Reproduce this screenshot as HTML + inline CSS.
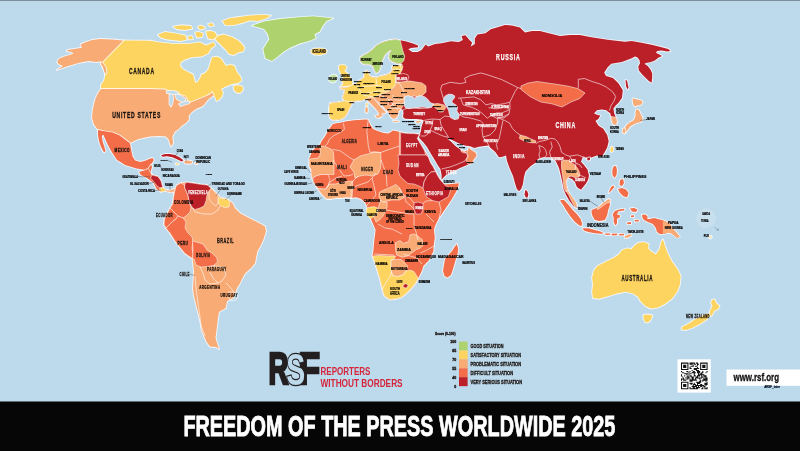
<!DOCTYPE html>
<html><head><meta charset="utf-8"><title>Freedom of the Press Worldwide 2025</title>
<style>
html,body{margin:0;padding:0;background:#000;}
body{width:800px;height:451px;overflow:hidden;position:relative;font-family:"Liberation Sans",sans-serif;}
svg{display:block;position:absolute;left:0;top:0;will-change:transform;}
.l{stroke:#fff;stroke-opacity:.8;stroke-width:1.8;stroke-linejoin:round;paint-order:stroke;}
.ov{stroke:#fff;stroke-opacity:.8;stroke-width:.65;stroke-linejoin:round;}
.b{fill:none;stroke:#fff;stroke-opacity:.85;stroke-width:.7;stroke-linejoin:round;}
.t{font-family:"Liberation Sans",sans-serif;font-weight:700;fill:#1a1410;stroke:#1a1410;stroke-width:.32;}
.ts{fill:#000;stroke:#000;stroke-width:.2;}
.tx{fill:#000;stroke:#000;stroke-width:.25;}
.w{font-family:"Liberation Sans",sans-serif;font-weight:700;fill:#fff;stroke:#fff;stroke-width:.25;}
</style></head>
<body>
<svg width="800" height="451" viewBox="0 0 800 451">
<rect x="0" y="0" width="800" height="402" fill="#bdd9ec"/>
<rect x="0" y="0" width="800" height="1.1" fill="#7a909f"/>
<rect x="0" y="1.1" width="800" height=".6" fill="#cadcea"/>
<polygon class="l" fill="#fdd460" points="123.1,40.5 135,40.6 150,40.7 159,42.3 173,43.8 189,43.8 200,42.3 206,45.4 213.7,42.3 215.2,45.4 211,48.5 208,53.5 201.5,56.5 191.7,57.2 184.4,59.8 180.7,62.2 180,65.9 183.2,69.5 188,72 193,74.4 194,78 195.4,83 197.8,81.7 200.2,78 201.5,74.4 205,73.2 208.2,69.5 210,64.6 211.2,59.8 212.4,57.3 217.3,56.7 221,58.5 223.4,62.2 225.9,65.9 230.7,64.6 234.4,65.9 236.8,72 240.5,76.8 241.7,80.5 238,83 232,84.1 225.9,86.6 221,89 218.5,90.2 216.5,90 221,88.9 223,92.2 222,96.6 218.7,100 216.5,101 215.4,97.7 213.7,95.5 212,92.2 209.8,94.4 205.4,96.6 199.9,98.8 194.3,101 188.8,103.3 185.5,96.6 168.8,91 164.4,89.4 150,88.9 101,89 101,85 104.3,80 105.4,74.3 104,70 101,64 101,61"/><polygon class="l" fill="#f9ab75" points="123.1,40.5 112,39.4 100,38.9 92,40 85.5,42.2 80.5,44.4 82,47.7 75.5,48.8 67.7,50 66.6,51 72.2,52.2 73.3,53.8 64.4,56.6 58.9,58.8 57.2,62.1 58.9,64.3 63,66 56.6,69.9 66.6,66.6 77.7,63.2 83.2,62.1 88.8,61 96.5,62.1 101,61.3 103,63.5 105.6,67 106.5,72 105.4,74.3 104.3,71.5 102.6,66.5 100.5,63.8"/><polygon class="l" fill="#f9ab75" points="101,89 150,88.9 164.4,89.4 168.8,91 185.5,96.6 188.8,103.3 194.3,101 199.9,98.8 205.4,96.6 209.8,94.4 212,92.2 213.7,95.5 212,96.6 207.6,100 204.3,104.4 202,106.6 196.5,108.8 192,112 188.8,115.5 188.8,120 185.5,123.2 181,126.5 177.7,130 175.1,131.3 172.4,136.6 173.1,143.2 171.1,146.6 169.8,143.2 168.5,139.3 165.8,136.6 159.1,136 149.8,136.6 143.2,138 137.9,139.3 133.9,141.2 130,143.2 124.6,139.3 119.3,135.3 112.6,132.6 104.6,131.3 98,130 94,124.6 92,118 92.7,110 95,100 98,93"/><polygon class="l" fill="#f26d48" points="98,130 104.6,131.3 112.6,132.6 119.3,135.3 124.6,139.3 130,143.2 131.2,150 132.6,156.5 135.2,160.5 140.5,161.9 145.8,160.5 148.5,159.2 152.5,157.9 153.8,159.9 151.2,164.5 148.5,168.5 145.8,170 136.5,168.5 130,166.5 125,165 120.5,162 117,160 113,154 110,149 107,143 104.6,137.5 103.2,134.5 101.8,136 102.5,141 104.2,146.5 105.6,151.2 104,152.3 101,147 99,141 98,135"/><polygon class="l" fill="#f26d48" points="145.8,170 148.5,168.5 151.2,164.5 152,167 150.5,172 152,175 158,176.6 161,181 162.8,187.5 166,190 169,190.5 173.7,189 175.3,188.3 174.5,191.5 171,192.5 167.3,191.5 163.3,190 161,192 156.6,189 153.5,182.8 147,178 141,175 139,172"/><polygon class="l" fill="#bb2029" points="161,155.3 165,154 170,153.9 175,155 179.5,157.3 183.5,160.3 181.8,161.6 177.5,159.5 172.5,157.3 167,156.3 162.5,156.8"/><polygon class="l" fill="#f9ab75" points="184.5,161 188,160.5 192.5,161.5 191.5,163.5 186,163.8 184.5,163"/><polygon class="l" fill="#fdd460" points="175.5,163.5 178.5,163.3 178.8,164.5 175.8,164.6"/><polygon class="l" fill="#f9ab75" points="195,163 197.5,163 197.5,164 195,164"/><polygon class="l" fill="#f9ab75" points="175.3,188.3 176.6,185.6 180.6,183 186,182.3 192.5,183 200.5,184.3 207.2,185 211.2,188.3 215.2,192.3 220.5,197.6 227,199 232.4,203 235,208.2 240.4,213.6 245.7,216.2 250,218.5 256,221.5 261,224 265,226.5 266,231 264,238 261,245 257.5,251 256,258 255,263.5 250,269 245,273.5 242,279 240,283.5 237,288 233.8,297.3 227,301.3 225.8,308 219,312 217.9,318.6 216.5,330.5 215.5,337.7 217,343 219,349 216,347 210,346.6 206.6,342 202,331 200,320 196.6,306.6 194,296 193,288.5 194,271 192.5,258.5 185,253.5 178,245 175,241 170,233 166,228.2 164,224.2 164.6,218.9 167.3,213.6 170,208.2 172.6,204.3 174,195"/><polygon class="l" fill="#aed36e" points="252,25.6 264,21.6 280,19 295.9,17.6 313,16.3 325,17.6 333,18.3 326.4,21 322.4,26.3 319.8,31.6 314.5,34.3 315.8,38.2 309,41 299.8,43.6 290.5,47.6 283.9,51.5 277.2,56.9 272,60.9 265.3,58.2 263.3,48.9 266.6,43.6 269.3,39.6 268,34.3 264,29 257.3,27"/><polygon class="l" fill="#fdd460" points="311,50.5 314,48.6 319,48.3 324,48.6 327,50.8 325.5,53.5 320,55 314.5,54.6 311.5,53"/><polygon class="l" fill="#fdd460" points="222.5,21 229.4,18.3 239,17 250,15.6 262,14.8 271,15.5 266,18.5 258,21 250,20.4 241.8,23.1 233.5,25.2 225.3,25.2"/><polygon class="l" fill="#fdd460" points="216.8,36 224,34.5 232,37 238,40.5 242,44 244.7,48 243,51.6 238,52.5 234,55 229,54 226,50 222,46 218,42 215,39"/><polygon class="l" fill="#fdd460" points="157.9,34.8 164.8,32 171.6,32.8 178.5,34.1 185.4,35.5 186.8,39.6 181.3,41 174.4,40.3 167.5,39.6 160.6,37.6"/><polygon class="l" fill="#fdd460" points="173,26.6 181.3,25.2 190.9,25.9 192.3,28.6 185.4,30 177.1,29.3"/><polygon class="l" fill="#fdd460" points="197.8,26.6 201,25.5 204.6,27 204.6,28.6 200,29.5"/><polygon class="l" fill="#fdd460" points="195,32.5 199,32 203.3,33.5 202,37 197,37.6"/><polygon class="l" fill="#fdd460" points="206,31.4 211,31 215,32.5 217,36 213,39.6 208,38.5"/><polygon class="l" fill="#fdd460" points="208,24 212,23 214,25.5 210,26.5"/><polygon class="l" fill="#fdd460" points="188,36.5 192,36 193,39 189,39.5"/><polygon class="l" fill="#bb2029" points="360.3,60.7 360.3,57.2 363.9,55 368.3,52.7 372.7,49.2 376.3,45.6 380.7,43 385.2,41.2 390.5,39.9 395.8,39.4 400.3,40.3 405.6,41.3 412.3,43.3 417.6,45.3 418.3,47.3 411,48 408.3,49.3 412.3,52 417.6,52 421.6,50 425.6,44.6 428.2,46.6 434.9,44 441.5,43.3 450.9,41.3 458.8,42 462.8,40 461.5,36 465.5,35.3 469.5,40 472.1,42.6 470.8,46.6 474.8,44 474.8,38.6 477.4,34.6 485.4,33.3 490.7,29.3 495,28 505,25 512,25.5 520,27.5 525,32.5 532,31 540,31 550,33.5 560,36 570,35 580,35 590,37.1 607.7,39.8 625,41.7 631.7,41.1 641.6,42.8 652.7,45 661.6,47.2 668.2,48.9 670.5,51.1 667.1,51.6 661.6,50.5 657.2,51.1 656,52.7 659.4,54.4 662.1,56.1 658.3,57.7 654.9,60.5 650.5,62.2 647.2,62.7 644.4,63.8 647.7,66 650.5,69.4 652.2,73.3 652.2,77.7 651.6,82.7 648.8,81 645.5,77.7 642.2,74.4 638.9,70.5 638.3,66.6 640,63.3 639.4,60 637.2,57.2 635,56.6 631.7,58.3 627.2,60 621.9,61.9 611.3,63.7 607.7,67.2 604.2,72.5 606,76.1 613,77.9 618.4,83.2 622.8,90.3 622,97.8 618.8,102.4 615.7,105.5 613.4,108.6 614.2,113.3 615.7,117.2 617.3,121 616.5,124.2 613.4,125 611.8,121 611,116.4 610.3,113.3 608,111.7 606.4,110.2 601.7,109.4 597,110.2 594,113.3 597,114.8 600.2,115.6 598.6,118.7 595.5,121 598.6,125.7 603.3,128.8 607.2,135 608.7,141.2 607.2,147.5 604.8,152 601.7,156.8 596.8,155.5 589,158.6 582.8,157 581,161.7 584,165 587.5,169.5 589,175.7 588,180 586,183.5 581,189.7 578,188 576.6,186.6 575,182 572,179 568,177.5 566,181 566.5,186 568,191 570.5,196 574,201 577,205 576.5,208 573.5,206 569.5,201 566,195 563.5,189 562.5,183 561,176 559,168 555.6,160.8 550.3,157.3 543,157.3 537.9,159 536,162.6 530.8,166 525.5,171.4 524,177 523,184 521.2,189 519,191.2 516.8,189 515.2,184 513,176 509.5,167.9 506.9,160.8 506,155.5 502,157 498.9,157.3 495.3,152 490,147.5 488.3,145.5 479,146.8 474.4,148 470,146.3 464.6,145.4 457.5,142.8 448.6,138.3 447.5,139 450.4,141 455.7,146.3 461,149.9 464.6,151.6 468,149.9 469,147.2 470.5,149.5 476,152.8 476.5,156 473.5,160 472.5,163 466,165.5 460,168 452,172 446,175 443,178 441.6,180 441.6,175.1 440.4,169 437.9,165.4 434.3,159.3 430.6,153.2 427,147 423.3,142.2 419.6,138.5 418.6,135.5 420.7,132 421.6,126.6 423.8,120.4 421.6,119.5 416.3,119 410,119 405,118.8 403,117 403.5,113 403,110 401,109 399,111 398,115 396.5,118 393,118.8 390,116 388.5,112 386,110 383.8,107 380,104 377,101 374,98.5 372.5,97.5 376,101.3 380,106 384,110.5 386,112.5 384,113.5 382,113 382.5,115.5 380,117.5 378,116 379,113 375,108 370,103 366,99 362,100.5 357,101 353.3,101.7 351.3,105 348.7,110.3 346.7,114.3 344,117.7 340,119.7 333.3,120.3 330,118.3 329,114 329,108 330,103 337,102.3 345.3,101 343.8,100 342.5,97.5 344,93.5 345,90 341,89 340,87.6 347,87.5 350,85.8 353,84.5 356,83.5 359,80.5 362,79 364,77.5 364.5,73 366,70.5 368.5,72 369.5,76 372,77 376,77.5 381,76 386,75 390,73 392.5,69.5 392,66.5 396,65.5 401,65 403,64.2 401.1,63.4 396.7,63.4 392.3,61.6 389.6,59.8 388.7,56.3 389.6,52.7 391.4,51 390.5,50.1 387.8,51.9 385.2,54.5 383.4,58 381.6,62.5 380.7,66 379.8,69.6 378.1,72.3 376.3,73.2 374.5,70.5 372.7,66 369.2,64.3 364.8,64.3 362.1,63.4"/><polygon class="l" fill="#f26d48" points="419.5,134.2 418.5,136 417.2,138.5 420.9,144.6 424.5,150.7 428.2,156.8 430.6,162.9 433,166.6 435.5,171.5 438,176.3 440.4,180 444.5,184.6 452,184 459,183.3 458,187 456.4,191.3 451,200.6 444.5,210 439,218 435,226 434,230 434.8,238 434,243 433.3,251.6 428.8,260.5 423.5,265.8 421.8,271 418.2,278.2 416.4,281.7 413,286.5 409.3,290.6 405,294.5 400.5,297.7 395,299 389.8,299.5 384.5,296 382.5,290 380,279 377.5,271 375,263 372.5,256 373.5,250 374,243 375.6,230 373.5,225 371.6,220.6 369,215 367.7,210 366.8,206.6 365,202 360.5,198.8 356,197.3 351.2,198 346.6,197.3 341,198 335.7,198 330,199 326.4,198.8 321.7,194 317,188 314,181.7 311.6,177 310.9,169.3 309.3,166 309.3,158.5 312.4,150.7 316,147.5 320,144.5 322,140.5 324.8,136.7 328.5,130 332.6,124.3 336,123.2 340.4,122.8 346.6,121.2 354,120.3 362,119.7 366,119.5 368.3,119.7 370,124.3 373,129 376.5,130.5 380.7,132 384,133 388.5,133.6 393,130.5 396,131 399.4,132 404,133 408.7,133.6 413,133.5 419.5,134.2"/><polygon class="l" fill="#f26d48" points="456.8,244 458.3,249 457.5,254 455,262 453,269 451,275 447.5,277.5 444.5,276 443,271 444,265 445,259 448.5,255 452,251 454.5,247"/><polygon class="l" fill="#fdd460" points="338.6,66 342,64.6 345.6,65.5 346.6,68 344.5,71 347.5,73.5 349.5,76 351,79 352.5,82 352,84.5 349,85.8 345,86.3 341,86.2 343.5,83.5 342,81 343.5,78 341.5,75 340,72 339,69"/><polygon class="l" fill="#c5e2a6" points="330,76 333.5,74.5 336.5,75.5 337,79 335,82 331.5,82.5 329,80.5"/><polygon class="l" fill="#bb2029" points="525.3,190 527,190.8 528.4,194 527.8,197.3 525.8,197.6 524.5,194.5"/><polygon class="l" fill="#fdd460" points="611.5,146.5 613.3,147.5 612.8,151.5 611,152 610.3,149.5"/><polygon class="l" fill="#bb2029" points="587,157.8 590,157.5 590,160 587.5,160.5"/><polygon class="l" fill="#f9ab75" points="632.7,98.3 637.2,99.4 641.6,100.5 642.7,102.7 640.5,105 637.2,105.5 635,106.6 633.3,104.4 632.7,101"/><polygon class="l" fill="#f9ab75" points="636.3,109.3 639,110.2 640.8,114.6 642.5,118 642.3,120.5 640.8,121.9 637,123 634.6,124 630.1,126.6 627.8,129.7 625.9,132.6 623.9,130.5 624.6,128.5 626.4,125.3 629.5,122.6 633.2,120.4 635,118 635.6,115 635.4,112"/><polygon class="l" fill="#f9ab75" points="622.8,128.6 625,128.8 625.4,131.5 624.5,133.6 622.6,132.5"/><polygon class="l" fill="#bb2029" points="625.5,80 627,80.5 628.5,87.5 627.5,89.5 626,86"/><polygon class="l" fill="#f26d48" points="613.5,166.5 616,166 617,170 616.5,175 614.5,178 612.5,175 612.3,170"/><polygon class="l" fill="#f26d48" points="620,180 623,179 624,183 622,186 619.5,185"/><polygon class="l" fill="#f26d48" points="618,189 622,188 626,189.5 628.5,193 627,197.5 623,196 620,193"/><polygon class="l" fill="#f26d48" points="611,187 613,185.5 614.5,187 610,192 608.5,193"/><polygon class="l" fill="#f26d48" points="591.6,210 594.9,208.8 599.3,206.6 602.6,203.3 606,201 608.2,198.9 610.4,200 609.8,205.5 608.2,210 607.1,215.5 604.9,220 599.3,221 594.9,220 592.7,216.6 591.6,213.3"/><polygon class="l" fill="#f26d48" points="614.8,211 619.3,209.4 624.8,208.8 623.7,210.5 618.2,211.6 617,214.4 620.4,215.5 619.3,217.7 617,218.8 617,223.2 615.4,225.5 613.7,222.1 613.7,217.7 612.6,214.4"/><polygon class="l" fill="#f26d48" points="560.5,200 563.9,200 568.3,204.4 572.7,210 577.2,214.4 580.5,218.8 582.1,223.2 581.6,226 579.4,225.5 575,222.1 570.5,216.6 566,210 562.8,204.4 560.5,201.5"/><polygon class="l" fill="#f26d48" points="582.7,228.2 588.2,228.2 594.9,229.9 600.4,231.6 603.8,233.2 601.5,233.8 594.9,233.2 588.2,232.1 583.8,230.4"/><polygon class="l" fill="#f26d48" points="605,233.6 610,233.4 610.5,234.8 605.5,235"/><polygon class="l" fill="#f26d48" points="611.5,233.8 617,233.6 617,235.2 612,235.4"/><polygon class="l" fill="#f26d48" points="619,234 624,233.8 624,235.2 619.5,235.4"/><polygon class="l" fill="#f9ab75" points="624.5,236.5 628,234.8 631,234 631.5,235.5 628.5,237.5 625,238"/><polygon class="l" fill="#f26d48" points="630,208.5 634,208 637.5,209.5 636,212 632,211.5"/><polygon class="l" fill="#f26d48" points="634.5,220 638.5,219.8 639,221.4 635,221.6"/><polygon class="l" fill="#f26d48" points="627,222.5 631,222 631,224 627.5,224.3"/><polygon class="l" fill="#f26d48" points="631,215.5 634,215.2 634,217 631,217.2"/><polygon class="l" fill="#f26d48" points="641.9,215 644.9,214.5 647.4,216 647.4,219 649.9,219 653.9,218 657.9,219 661.9,220 665.9,221.4 669.9,224 672.8,228.9 675.8,231.9 679.8,236.9 676.8,237.4 673.8,234.9 670.8,232.9 666.9,232.9 663.9,233.9 659.9,233.9 656.9,231.9 655.9,227.9 652.9,223.9 647.9,221.9 643.9,219.9 642.4,217.4"/><polygon class="l" fill="#fdd460" points="593.9,270.5 597.4,266 606.3,261.6 613.4,258 618.7,254.5 622.2,250 627.6,248.3 631.1,249.2 634.6,245.6 638.2,243 643.5,242.1 648.8,243.9 648,248.3 650.6,251 655.9,254.5 659.5,249.2 661.2,242.1 663,239.4 664.8,245.6 667.4,252.7 671.9,261.6 677.2,268.7 680.7,275.8 679.9,284.6 677.2,291.7 671.9,298.8 664.8,304.1 657.7,307.7 650.6,308.6 645.3,305.9 640,300.6 638.2,297 632.9,293.5 625.8,291.7 616.9,293.5 608,296.2 599.2,298.8 593,298 592.1,291.7 593,284.6 592.1,277.5"/><polygon class="l" fill="#fdd460" points="643.5,315 648,314.5 652.5,315.5 651,319.5 648,322.5 645,322 643.5,318.5"/><polygon class="l" fill="#fdd460" points="712,300 715,299.5 716,303 719.5,306 718,309 714,311 712,315.5 709.5,316 710,311 712.5,306 711,303"/><polygon class="l" fill="#fdd460" points="708.5,313.5 710,316 706,320 700,324 692,328 686,330 681.5,329.5 682,327 688,324 694,320 700,317 705,314.5"/><polygon class="l" fill="#efe6b4" points="709,236 711,235.6 712,237 710.5,238.6 709,238"/><polygon class="l" fill="#fdd460" points="366.3,103.2 367.6,103.4 367.4,106 366.2,106.2"/><polygon class="l" fill="#fdd460" points="233.5,86 238,85.2 242.5,86.5 243,90 240,93 236.5,92.5 234,90"/><polygon class="l" fill="#f9ab75" points="365.6,107.3 367.6,107.2 367.8,111.5 366.8,113 365.4,112"/><polygon class="l" fill="#f9ab75" points="375.2,115.6 378.6,115.2 381,115.6 379.3,118 376.6,117.4"/><polygon class="l" fill="#f9ab75" points="415.5,121.4 419.5,120.8 421.3,121.3 418.5,122.7 416,122.6"/><polygon class="l" fill="#f9ab75" points="393,121 398.5,120.7 399,121.6 393.5,121.9"/>
<polygon class="ov" fill="#bb2029" points="184.6,185 186,182.3 192.5,183 200.5,184.3 207.2,185 211.2,188.3 209,191 207,195 206,201 204,206 200,208 195,209.5 191,207 189,202 188,196 186,191 184.6,188"/><polygon class="ov" fill="#f26d48" points="175.3,188.3 176.6,185.6 180.6,183 184.6,185 184.6,188 186,191 188,196 189,202 191,207 190,212 186,216 183,218 178,216 174,212 170,208.2 172.6,204.3 174,195"/><polygon class="ov" fill="#f26d48" points="170,208.2 174,212 178,216 176,219 172,222 168,226 166,228.2 164,224.2 164.6,218.9 167.3,213.6"/><polygon class="ov" fill="#f26d48" points="166,228.2 168,226 172,222 176,219 178,216 183,218 186,222 185,228 188,233 192,237 193,241 192,248 193,254 192.5,258.5 185,253.5 178,245 175,241 170,233"/><polygon class="ov" fill="#f26d48" points="192.5,241 198,242.5 203,244 207,250 212,253 217,258 217.5,262 213,266 207,266.5 201,267 196,265 194,259 192.5,258.5 193,250"/><polygon class="ov" fill="#fdd460" points="217.8,197.6 222,198.5 227,199 229.8,202 229,207 225,207.5 221,206 218,203"/><polygon class="ov" fill="#f9ab75" points="211.2,188.3 215.2,192.3 218,196 218,203 216,206 213,204 209,199 209,191"/><polygon class="ov" fill="#bb2029" points="152,175 158,176.6 161,181 162.8,187.5 160,188 157,186 154,182 150.5,178"/><polygon class="ov" fill="#fdd460" points="160,188 162.8,187.5 166,190 164.5,191.5 161,192 159.5,190"/><polygon class="ov" fill="#f9ab75" points="164.5,191.5 166,190 169,190.5 173.7,189 175.3,188.3 174.5,191.5 171,192.5 167.3,191.5"/><polygon class="ov" fill="#aed36e" points="360.3,60.7 360.3,57.2 363.9,55 368.3,52.7 372.7,49.2 376.3,45.6 380.7,43 385.2,41.2 390.5,39.9 395.8,39.4 400.3,40.3 401.1,43.9 402.9,51 404.7,56.3 403.8,60.7 401.1,63.4 396.7,63.4 392.3,61.6 389.6,59.8 388.7,56.3 389.6,52.7 391.4,51 390.5,50.1 387.8,51.9 385.2,54.5 383.4,58 381.6,62.5 380.7,66 379.8,69.6 378.1,72.3 376.3,73.2 374.5,70.5 372.7,66 369.2,64.3 364.8,64.3 362.1,63.4"/><polygon class="ov" fill="#fdd460" points="330,103 337,102.3 345.3,101 343.8,100 342.5,97.5 344,93.5 345,90 341,89 340,87.6 347,87.5 350,85.8 353,84.5 356,83.5 359,80.5 362,79 364,77.5 364.5,73 366,70.5 368.5,72 369.5,76 372,77 376,77.5 381,76 386,75 390,73 392.5,69.5 392,66.5 396,65.5 401,65 403,66 402,70 400,74 396,74.5 396,78 396,82 395,86 393,88 390,90 388,92 384,93 380,95 377,96 374,98.5 372.5,97.5 366,99 362,100.5 357,101 353.3,101.7 351.3,105 348.7,110.3 346.7,114.3 344,117.7 340,119.7 333.3,120.3 330,118.3 329,114 329,108"/><polygon class="ov" fill="#f9ab75" points="366,99 370,97 374,98.5 376,101.3 380,106 384,110.5 386,112.5 384,113.5 382,113 382.5,115.5 380,117.5 378,116 379,113 375,108 370,103"/><polygon class="ov" fill="#f9ab75" points="374,98.5 377,96 380,95 384,93 388,92 390,90 393,88 395,86 396,82 400,82 405,81 410,81 416,82 422,83 426,86 426,92 422,96 418,97 414,96 410,97 406,98 404,99 404.5,103 403,106 401,109 399,111 398,115 396.5,118 393,118.8 390,116 388.5,112 386,110 383.8,107 380,104 377,101"/><polygon class="ov" fill="#bb2029" points="396,74.5 400,74 404,73.5 408,75 409,78 407,81 402,82 396,82 396,78"/><polygon class="ov" fill="#f26d48" points="389,100 392,99.5 393,103 391,106 388.5,105"/><polygon class="ov" fill="#f9ab75" points="433,104 438,103.5 444,105 446,107.5 444,110 443,112 439,112 437,109 434,107"/><polygon class="ov" fill="#f26d48" points="521,86 528,83 537,81.5 549.7,83.3 558,84.5 567.4,86 578,88.6 585,93 580,98.4 571,102 562,107 551.5,103.7 540.8,102 530,96.6 521,89.5"/><polygon class="ov" fill="#f9ab75" points="520,135 526,136.5 531,139 536,141 535.5,143 530,142.5 524,141 519.5,138.5"/><polygon class="ov" fill="#f9ab75" points="561.5,161 565,160 569,160.5 572,163 575,165 578,169 580,174 579,177 575,177.5 571,176 568,177.5 566,181 566.5,186 568,191 566,192 564,188 563.5,183 563,178 562,172 561.5,167"/><polygon class="ov" fill="#f9ab75" points="566.6,190 568,191 570.5,194.4 573.8,198.9 576,202.2 577.2,206.6 575.5,207.7 573.3,204.4 571,200 568.9,195.5 566.6,191.7"/><polygon class="ov" fill="#f9ab75" points="597,208.2 599.3,206.6 602.6,203.3 606,201 608.2,198.9 610.4,200 609.9,202.5 607,203 603.5,205.5 599.5,208.5 597.5,209.5"/><polygon class="ov" fill="#f9ab75" points="611,116.4 615.7,117.2 617.3,121 616.5,124.2 613.4,125 611.8,121"/><polygon class="ov" fill="#f38a5a" points="469,147.2 470.5,149.5 476,152.8 476.5,156 473.5,160 472.5,163 468,164.5 466,160 468,156 467,152.5"/><polygon class="ov" fill="#f26d48" points="461,149.9 464.6,151.6 468,149.9 467,152.5 464,153 461,151.5"/><polygon class="ov" fill="#bb2029" points="400.6,132.5 404,133 408.7,133.6 413,133.5 419.5,134.2 418.5,136 417.2,138.5 420.9,144.6 424.5,150.7 425.6,155 413,155 400.6,155"/><polygon class="ov" fill="#bb2029" points="398,155 425.6,155 428.2,156.8 430.6,162.9 433,166.6 435.5,171.5 431,172 427,176 424,182 423,188 419,186 414,184 408,183.5 404,180 400,176 398,170 399,163"/><polygon class="ov" fill="#bb2029" points="435.5,171.5 438,176.3 440.4,180 444.5,184.6 447,186.5 451,188.6 448.5,196.6 439,202 432.5,200.6 426,196.6 423,188 424,182 427,176 431,172"/><polygon class="ov" fill="#f9ab75" points="310,159 314,158.5 318,158 320,155 320,146 325,146.5 331,149 333.5,152 334,160 334,174.4 328,174.5 321,174.5 316,176 313,178 311.6,177 310.9,169.3 309.3,166 309.3,161"/><polygon class="ov" fill="#f26d48" points="313,178 316,176 321,174.5 328,174.5 330,180 328,186 326,189 322,189 318,188.5 315,185 313,181"/><polygon class="ov" fill="#f9ab75" points="315,185 318,188.5 322,189 326,189 328,186 330,184 335.5,184 340,183 346.5,181.7 352.6,181 352.6,190 352,198 346.6,197.3 341,198 335.7,198 330,199 326.4,198.8 321.7,194 317,188"/><polygon class="ov" fill="#f9ab75" points="353.8,160 360,156 368,154 374,152 380.6,152.5 381,160 380.6,168 378,174 372,176 366,175 360,176 355,178 353.8,172 350,167"/><polygon class="ov" fill="#f9ab75" points="379.4,192.2 383.9,190 391.6,186.7 396,184.4 399.4,187.8 401.6,192.2 403.8,197.8 399.4,200 391.6,200 387.2,201 382.7,202.2 380.5,200 378.9,196.6"/><polygon class="ov" fill="#f9ab75" points="380.5,200 382.7,202.2 387.2,202.2 387.2,206.6 385,212.2 382.7,216.6 379.4,220 376,222.2 373.9,216.6 377.2,212.2 378.3,207.7"/><polygon class="ov" fill="#fdd460" points="367.2,207.7 373.9,206.6 377.2,207.7 377.2,212.2 373.9,216.6 370.5,218.8 367.2,215.5 366.1,211"/><polygon class="ov" fill="#f9ab75" points="395.5,242.8 400,240.5 403.3,243.3 408.8,241.6 410,235 414.4,233.9 417.7,236.1 422.2,239.4 423.3,245 420,248.3 416.6,249.4 412.2,252.7 407.7,256 402.2,257.2 396.6,255 395.5,249.4"/><polygon class="ov" fill="#fdd460" points="372.5,256 380,255.5 388,256 395.5,256 394,259.4 391,260 391,265 391.5,272 390,277 387,281 384,286 382.5,290 380,279 377.5,271 375,263"/><polygon class="ov" fill="#f9ab75" points="391,260 396,259.5 401,259.4 404,262 407.6,266 406,271 403,275 398,276.5 393,276 391.5,272 391,265"/><polygon class="ov" fill="#fdd460" points="382.5,290 384,286 387,281 390,277 391.5,272 393,276 398,276.5 403,275 406,271 410,270 414,271.5 418.2,278.2 416.4,281.7 413,286.5 409.3,290.6 405,294.5 400.5,297.7 395,299 389.8,299.5 384.5,296"/><polygon class="ov" fill="#bb2029" points="403,285 406,283.5 408,285.5 406.5,288 403.5,287.5"/><polygon class="ov" fill="#bb2029" points="414,203 418,202 423,203.5 423,209 421,214 416,214 414,209"/><polygon fill="#f9ab75" points="662.9,220.3 665.9,221.4 669.9,224 672.8,228.9 675.8,231.9 679.8,236.9 676.8,237.4 673.8,234.9 670.8,232.9 666.9,232.9 663.9,233.9 662.9,233.9"/>
<path class="b" d="M443.3,98.2L440.6,89L442,85L450,82.3L460.6,83.6L466,82.3L464.6,78.3L470,75.6L480.5,73L486,74.3L494,77L501.8,79.6L509.8,83.6L517.8,87.6L521,88.6M517.8,87.6L515,91.6L512.4,97L509.8,102.2L504.5,103.6L496.5,104.9L491.2,103.6L485.9,104.9L480.5,99.6L473.9,96.9L466,97.6L458,98.2M460.6,98.2L463.2,104.9L472.6,107.6L477.9,110.2L483.2,114.2L487.2,118.2M456,112.5L463.2,116.9L471.2,118.2L480.5,120.9L483.2,123.5M488.5,107.6L496.5,108.9L507,106.2L508.5,110.2L501.8,112.9L496.5,112.9L491.2,115.5L496.5,118.2L503,116.9L509,114M509.8,102.2L510,108L509,114L504,118L497.7,117.7M487.2,118.2L491.2,115.5M578.3,87.9L578.3,79.3L584.5,78.5L592.3,81.6L600,84L606.3,87L612.5,91.7L615.6,96.4L614,101L611,105.7L609.4,110.4M423.8,120.4L432,119L440,119.5L441,125L444,130L448.6,137.4M448.6,137.4L443,136L436,133L430,130L428,134L425,136L420.7,136M433,119.5L432,126L430,130M441.6,169L450,167L458,164L465,161L468,156L465,152L461,150.2M440,119.5L445,116L452,117M483.2,123.5L482,130L483,137L487,142L489,146L490,149M483,137L490,135L495,130L497.7,123L497.7,117.7M497.7,117.7L504.3,120.3L509.6,123L512.3,128.3L516.3,132.3L520.3,135M503,120.3L501.6,127L500.3,133.6L499,139L496.3,144.3L497.7,149.6M536.2,143.6L538.9,141.6L545.5,140.3L550.9,138.3L554.8,139L557.5,141.6L560.2,146.9L561.5,152.2L565.5,154.9L569.5,156.2L577.4,154.9L585.4,157.6M538.9,145.6L542.9,147L545.5,149.6L546.9,154.9L544.2,157.6M538.9,145.6L540.2,150.9L538.9,154.9L540.2,158.9M550.9,141.6L552.2,146.9L549.5,152.2L550.9,157.6M569.5,156.2L572,160L576,163L580,165L582,168M576,163L575,170L578,175L582,176L586,178M403,110L406,108.5L413,108L420,108.5L428,108L433,105M343.5,123.3L344.4,129.5L339,133L333.7,135.7L329.3,139.3L327.5,143.7L325,146M368.3,119.7L366.8,130.5L368.3,146L370,152.3M332.6,149.5L340,150.7L351,158.5L354.3,160M370,152.3L374,152L380.7,152.5L389,149.5L399.4,146M399.4,132L399.4,155M333,160L337,166L341,172L344,176L350,175.5L353,174M326.4,188L330,182L336,178L342,176M349,188L352,182L356,178L358,176M351.2,198L351,190L356,186L362,184L368,182L372,178L376,173M372,178L374.5,188L376,195L372,200L367,205L366.8,206.6M381,160L384,168L386,174L386.5,178L387,186.5M378,224L385,228L392,229L398,232L402,234M414,214L414,225L416,232L418,240M426,214L434,222M420.5,253L427,250L434,246M374.3,254L394,255M403.6,254.5L410,256L417,258L422,264M439,202L441,210L439,218M399.4,188L402,193L405,196L410,198L414,203M404.6,196L406,202L410,205L414,209M423,203.5L426,201L432.5,200.6M386,210L392,211L398,212L404,213L410,214L414,214M195,276L196.25,291L198.75,308.5L201.25,326L205,336M210,266L218,266L224,268L226,275L222,281L218,283L213,278L210,272M226,283L230,287L234,292M228,292L234,292L238,296L236,300L231,301L228,297M200,267L203,273L205,280L210,284L218,283M189,202L195,212L204,214L212,214L218,210L220,206M345.3,101L349,101.5L353.3,101.7M356,83.5L358,87L360,90.5L362.5,94L366,96M376,77.5L376.5,82L377,86M362.5,86.5L370,86L378,85.5L383,87M366,93L372,92L378,91L384,91L390,90M362.5,94L368,96L373,96.5M380,95L384,97L388,99L391,102L393,105L396,108L398,110M393,95L393.5,98.5L397,100L401,100L404,99M391,106L394,103.5L398,103L402,104L404.5,103M386,110L390,109L393,108L398,108L401,109M396,82L400,84L402,88L404,92L404,96M396,74.5L396,78L396,82M400,64L401,68L402,70M392.5,69.5L397,69L402,70M148.5,168.5L150,172L152,175"/><polygon class="l" fill="#bdd9ec" points="405,97 408,96 413,97.5 415,99 417,97 420,96 424,97 427,99.4 430,103 433,104 431,107 428,107.4 423,106.4 418,107 413,107.4 409,108 406,107.4 404.5,105 405,100"/>
<polygon class="l" fill="#bdd9ec" points="444,98.7 445.7,96.2 449,94.6 452.2,95 454.3,96.2 453.9,97.8 452.2,99.5 451.4,101.5 452.6,103.6 455.5,105.2 457.1,107.7 456.3,111 458.8,115 458,118.3 454.7,119.1 451.4,117.5 449.8,114.2 449,110.1 447.3,106.9 445.7,104.4 444,101.1"/>
<polygon class="l" fill="#bdd9ec" points="166.6,91.5 171,90.8 176,91.5 178.8,93 175,94.4 170,93.5 167,93.2"/>
<polygon class="l" fill="#bdd9ec" points="169.5,94.5 172,94.3 173.3,98 172.5,103 171,106.5 169.5,104 169.5,99"/>
<polygon class="l" fill="#bdd9ec" points="175.5,94.4 179,95 182,96.5 185.5,99 184,102 180,101 177,99 176,97"/>
<polygon class="l" fill="#bdd9ec" points="179,104 183,102.5 186,101.5 189,101.5 188.8,103.5 185,104.5 181,106"/>
<circle cx="706" cy="218.3" r="10" fill="#cfe3f0" opacity=".6"/>
<path d="M714.5,227.3 L718.6,230.3 M716.3,230.4 L718.6,230.3 L718.4,228.2" stroke="#7f98ad" stroke-width=".6" fill="none"/>
<rect x="459" y="341.60" width="8.6" height="8.95" fill="#aed36e"/>
<rect x="459" y="350.50" width="8.6" height="8.95" fill="#fdd460"/>
<rect x="459" y="359.40" width="8.6" height="8.95" fill="#f9ab75"/>
<rect x="459" y="368.30" width="8.6" height="8.95" fill="#f26d48"/>
<rect x="459" y="377.20" width="8.6" height="8.95" fill="#bb2029"/>
<text class="t" x="470.6" y="348.20" font-size="6.2" textLength="32.8" lengthAdjust="spacingAndGlyphs">GOOD SITUATION</text>
<text class="t" x="470.6" y="357.10" font-size="6.2" textLength="50.4" lengthAdjust="spacingAndGlyphs">SATISFACTORY SITUATION</text>
<text class="t" x="470.6" y="366.00" font-size="6.2" textLength="50.4" lengthAdjust="spacingAndGlyphs">PROBLEMATIC SITUATION</text>
<text class="t" x="470.6" y="374.90" font-size="6.2" textLength="42.4" lengthAdjust="spacingAndGlyphs">DIFFICULT SITUATION</text>
<text class="t" x="470.6" y="383.80" font-size="6.2" textLength="51.4" lengthAdjust="spacingAndGlyphs">VERY SERIOUS SITUATION</text>
<text class="t" x="456.3" y="343.20" font-size="3.6" text-anchor="end">100</text>
<text class="t" x="456.3" y="352.10" font-size="3.6" text-anchor="end">85</text>
<text class="t" x="456.3" y="361.00" font-size="3.6" text-anchor="end">70</text>
<text class="t" x="456.3" y="369.90" font-size="3.6" text-anchor="end">55</text>
<text class="t" x="456.3" y="378.80" font-size="3.6" text-anchor="end">40</text>
<text class="t" x="456.3" y="387.70" font-size="3.6" text-anchor="end">0</text>
<text class="t" x="435" y="335.2" font-size="3.8" textLength="20.5" lengthAdjust="spacingAndGlyphs">Score (0-100)</text>
<g font-family="Liberation Sans,sans-serif" font-weight="700" font-size="43.8"><text x="268.4" y="384.3" fill="#231f20" stroke="#231f20" stroke-width="2.6" stroke-linejoin="miter" textLength="20" lengthAdjust="spacingAndGlyphs">R</text><text x="298.6" y="384.3" fill="#231f20" stroke="#231f20" stroke-width="2.6" stroke-linejoin="miter" textLength="21.5" lengthAdjust="spacingAndGlyphs">F</text><text x="286.2" y="384.5" fill="#bdd9ec" stroke="#231f20" stroke-width="2.4" paint-order="stroke" textLength="19" lengthAdjust="spacingAndGlyphs">S</text></g>
<text x="320.5" y="375.4" font-family="Liberation Sans,sans-serif" font-weight="700" font-size="11.6" fill="#d5253b" textLength="49.9" lengthAdjust="spacingAndGlyphs">REPORTERS</text>
<text x="320.5" y="386.6" font-family="Liberation Sans,sans-serif" font-weight="700" font-size="11" fill="#d5253b" textLength="82.1" lengthAdjust="spacingAndGlyphs">WITHOUT BORDERS</text>
<rect x="677.5" y="359.3" width="33.3" height="33.3" fill="#fff"/>
<path fill="#111" d="M681.00,362.60h1.06v1.06h-1.06zM682.06,362.60h1.06v1.06h-1.06zM683.13,362.60h1.06v1.06h-1.06zM684.19,362.60h1.06v1.06h-1.06zM685.26,362.60h1.06v1.06h-1.06zM686.32,362.60h1.06v1.06h-1.06zM687.38,362.60h1.06v1.06h-1.06zM689.51,362.60h1.06v1.06h-1.06zM690.58,362.60h1.06v1.06h-1.06zM691.64,362.60h1.06v1.06h-1.06zM692.70,362.60h1.06v1.06h-1.06zM693.77,362.60h1.06v1.06h-1.06zM695.90,362.60h1.06v1.06h-1.06zM696.96,362.60h1.06v1.06h-1.06zM700.15,362.60h1.06v1.06h-1.06zM701.22,362.60h1.06v1.06h-1.06zM702.28,362.60h1.06v1.06h-1.06zM703.34,362.60h1.06v1.06h-1.06zM704.41,362.60h1.06v1.06h-1.06zM705.47,362.60h1.06v1.06h-1.06zM706.54,362.60h1.06v1.06h-1.06zM681.00,363.66h1.06v1.06h-1.06zM687.38,363.66h1.06v1.06h-1.06zM689.51,363.66h1.06v1.06h-1.06zM690.58,363.66h1.06v1.06h-1.06zM691.64,363.66h1.06v1.06h-1.06zM693.77,363.66h1.06v1.06h-1.06zM694.83,363.66h1.06v1.06h-1.06zM696.96,363.66h1.06v1.06h-1.06zM698.02,363.66h1.06v1.06h-1.06zM700.15,363.66h1.06v1.06h-1.06zM706.54,363.66h1.06v1.06h-1.06zM681.00,364.73h1.06v1.06h-1.06zM683.13,364.73h1.06v1.06h-1.06zM684.19,364.73h1.06v1.06h-1.06zM685.26,364.73h1.06v1.06h-1.06zM687.38,364.73h1.06v1.06h-1.06zM692.70,364.73h1.06v1.06h-1.06zM696.96,364.73h1.06v1.06h-1.06zM700.15,364.73h1.06v1.06h-1.06zM702.28,364.73h1.06v1.06h-1.06zM703.34,364.73h1.06v1.06h-1.06zM704.41,364.73h1.06v1.06h-1.06zM706.54,364.73h1.06v1.06h-1.06zM681.00,365.79h1.06v1.06h-1.06zM683.13,365.79h1.06v1.06h-1.06zM684.19,365.79h1.06v1.06h-1.06zM685.26,365.79h1.06v1.06h-1.06zM687.38,365.79h1.06v1.06h-1.06zM690.58,365.79h1.06v1.06h-1.06zM691.64,365.79h1.06v1.06h-1.06zM692.70,365.79h1.06v1.06h-1.06zM694.83,365.79h1.06v1.06h-1.06zM695.90,365.79h1.06v1.06h-1.06zM700.15,365.79h1.06v1.06h-1.06zM702.28,365.79h1.06v1.06h-1.06zM703.34,365.79h1.06v1.06h-1.06zM704.41,365.79h1.06v1.06h-1.06zM706.54,365.79h1.06v1.06h-1.06zM681.00,366.86h1.06v1.06h-1.06zM683.13,366.86h1.06v1.06h-1.06zM684.19,366.86h1.06v1.06h-1.06zM685.26,366.86h1.06v1.06h-1.06zM687.38,366.86h1.06v1.06h-1.06zM689.51,366.86h1.06v1.06h-1.06zM696.96,366.86h1.06v1.06h-1.06zM700.15,366.86h1.06v1.06h-1.06zM702.28,366.86h1.06v1.06h-1.06zM703.34,366.86h1.06v1.06h-1.06zM704.41,366.86h1.06v1.06h-1.06zM706.54,366.86h1.06v1.06h-1.06zM681.00,367.92h1.06v1.06h-1.06zM687.38,367.92h1.06v1.06h-1.06zM689.51,367.92h1.06v1.06h-1.06zM690.58,367.92h1.06v1.06h-1.06zM693.77,367.92h1.06v1.06h-1.06zM694.83,367.92h1.06v1.06h-1.06zM695.90,367.92h1.06v1.06h-1.06zM696.96,367.92h1.06v1.06h-1.06zM698.02,367.92h1.06v1.06h-1.06zM700.15,367.92h1.06v1.06h-1.06zM706.54,367.92h1.06v1.06h-1.06zM681.00,368.98h1.06v1.06h-1.06zM682.06,368.98h1.06v1.06h-1.06zM683.13,368.98h1.06v1.06h-1.06zM684.19,368.98h1.06v1.06h-1.06zM685.26,368.98h1.06v1.06h-1.06zM686.32,368.98h1.06v1.06h-1.06zM687.38,368.98h1.06v1.06h-1.06zM693.77,368.98h1.06v1.06h-1.06zM694.83,368.98h1.06v1.06h-1.06zM695.90,368.98h1.06v1.06h-1.06zM700.15,368.98h1.06v1.06h-1.06zM701.22,368.98h1.06v1.06h-1.06zM702.28,368.98h1.06v1.06h-1.06zM703.34,368.98h1.06v1.06h-1.06zM704.41,368.98h1.06v1.06h-1.06zM705.47,368.98h1.06v1.06h-1.06zM706.54,368.98h1.06v1.06h-1.06zM691.64,370.05h1.06v1.06h-1.06zM695.90,370.05h1.06v1.06h-1.06zM696.96,370.05h1.06v1.06h-1.06zM698.02,370.05h1.06v1.06h-1.06zM681.00,371.11h1.06v1.06h-1.06zM686.32,371.11h1.06v1.06h-1.06zM687.38,371.11h1.06v1.06h-1.06zM689.51,371.11h1.06v1.06h-1.06zM692.70,371.11h1.06v1.06h-1.06zM693.77,371.11h1.06v1.06h-1.06zM696.96,371.11h1.06v1.06h-1.06zM698.02,371.11h1.06v1.06h-1.06zM699.09,371.11h1.06v1.06h-1.06zM702.28,371.11h1.06v1.06h-1.06zM706.54,371.11h1.06v1.06h-1.06zM682.06,372.18h1.06v1.06h-1.06zM683.13,372.18h1.06v1.06h-1.06zM688.45,372.18h1.06v1.06h-1.06zM691.64,372.18h1.06v1.06h-1.06zM692.70,372.18h1.06v1.06h-1.06zM693.77,372.18h1.06v1.06h-1.06zM694.83,372.18h1.06v1.06h-1.06zM696.96,372.18h1.06v1.06h-1.06zM698.02,372.18h1.06v1.06h-1.06zM699.09,372.18h1.06v1.06h-1.06zM701.22,372.18h1.06v1.06h-1.06zM702.28,372.18h1.06v1.06h-1.06zM705.47,372.18h1.06v1.06h-1.06zM684.19,373.24h1.06v1.06h-1.06zM685.26,373.24h1.06v1.06h-1.06zM686.32,373.24h1.06v1.06h-1.06zM687.38,373.24h1.06v1.06h-1.06zM689.51,373.24h1.06v1.06h-1.06zM690.58,373.24h1.06v1.06h-1.06zM693.77,373.24h1.06v1.06h-1.06zM698.02,373.24h1.06v1.06h-1.06zM700.15,373.24h1.06v1.06h-1.06zM701.22,373.24h1.06v1.06h-1.06zM681.00,374.30h1.06v1.06h-1.06zM686.32,374.30h1.06v1.06h-1.06zM688.45,374.30h1.06v1.06h-1.06zM693.77,374.30h1.06v1.06h-1.06zM698.02,374.30h1.06v1.06h-1.06zM699.09,374.30h1.06v1.06h-1.06zM700.15,374.30h1.06v1.06h-1.06zM701.22,374.30h1.06v1.06h-1.06zM702.28,374.30h1.06v1.06h-1.06zM703.34,374.30h1.06v1.06h-1.06zM681.00,375.37h1.06v1.06h-1.06zM684.19,375.37h1.06v1.06h-1.06zM687.38,375.37h1.06v1.06h-1.06zM689.51,375.37h1.06v1.06h-1.06zM690.58,375.37h1.06v1.06h-1.06zM693.77,375.37h1.06v1.06h-1.06zM694.83,375.37h1.06v1.06h-1.06zM696.96,375.37h1.06v1.06h-1.06zM698.02,375.37h1.06v1.06h-1.06zM699.09,375.37h1.06v1.06h-1.06zM701.22,375.37h1.06v1.06h-1.06zM703.34,375.37h1.06v1.06h-1.06zM704.41,375.37h1.06v1.06h-1.06zM705.47,375.37h1.06v1.06h-1.06zM682.06,376.43h1.06v1.06h-1.06zM686.32,376.43h1.06v1.06h-1.06zM687.38,376.43h1.06v1.06h-1.06zM688.45,376.43h1.06v1.06h-1.06zM690.58,376.43h1.06v1.06h-1.06zM691.64,376.43h1.06v1.06h-1.06zM692.70,376.43h1.06v1.06h-1.06zM695.90,376.43h1.06v1.06h-1.06zM696.96,376.43h1.06v1.06h-1.06zM701.22,376.43h1.06v1.06h-1.06zM702.28,376.43h1.06v1.06h-1.06zM704.41,376.43h1.06v1.06h-1.06zM705.47,376.43h1.06v1.06h-1.06zM683.13,377.50h1.06v1.06h-1.06zM685.26,377.50h1.06v1.06h-1.06zM687.38,377.50h1.06v1.06h-1.06zM688.45,377.50h1.06v1.06h-1.06zM691.64,377.50h1.06v1.06h-1.06zM692.70,377.50h1.06v1.06h-1.06zM694.83,377.50h1.06v1.06h-1.06zM695.90,377.50h1.06v1.06h-1.06zM696.96,377.50h1.06v1.06h-1.06zM698.02,377.50h1.06v1.06h-1.06zM699.09,377.50h1.06v1.06h-1.06zM700.15,377.50h1.06v1.06h-1.06zM701.22,377.50h1.06v1.06h-1.06zM703.34,377.50h1.06v1.06h-1.06zM705.47,377.50h1.06v1.06h-1.06zM706.54,377.50h1.06v1.06h-1.06zM681.00,378.56h1.06v1.06h-1.06zM682.06,378.56h1.06v1.06h-1.06zM683.13,378.56h1.06v1.06h-1.06zM686.32,378.56h1.06v1.06h-1.06zM687.38,378.56h1.06v1.06h-1.06zM689.51,378.56h1.06v1.06h-1.06zM691.64,378.56h1.06v1.06h-1.06zM692.70,378.56h1.06v1.06h-1.06zM694.83,378.56h1.06v1.06h-1.06zM699.09,378.56h1.06v1.06h-1.06zM703.34,378.56h1.06v1.06h-1.06zM704.41,378.56h1.06v1.06h-1.06zM705.47,378.56h1.06v1.06h-1.06zM706.54,378.56h1.06v1.06h-1.06zM681.00,379.62h1.06v1.06h-1.06zM683.13,379.62h1.06v1.06h-1.06zM684.19,379.62h1.06v1.06h-1.06zM685.26,379.62h1.06v1.06h-1.06zM689.51,379.62h1.06v1.06h-1.06zM690.58,379.62h1.06v1.06h-1.06zM691.64,379.62h1.06v1.06h-1.06zM692.70,379.62h1.06v1.06h-1.06zM693.77,379.62h1.06v1.06h-1.06zM694.83,379.62h1.06v1.06h-1.06zM695.90,379.62h1.06v1.06h-1.06zM700.15,379.62h1.06v1.06h-1.06zM702.28,379.62h1.06v1.06h-1.06zM703.34,379.62h1.06v1.06h-1.06zM704.41,379.62h1.06v1.06h-1.06zM705.47,379.62h1.06v1.06h-1.06zM706.54,379.62h1.06v1.06h-1.06zM689.51,380.69h1.06v1.06h-1.06zM690.58,380.69h1.06v1.06h-1.06zM691.64,380.69h1.06v1.06h-1.06zM699.09,380.69h1.06v1.06h-1.06zM700.15,380.69h1.06v1.06h-1.06zM702.28,380.69h1.06v1.06h-1.06zM705.47,380.69h1.06v1.06h-1.06zM681.00,381.75h1.06v1.06h-1.06zM682.06,381.75h1.06v1.06h-1.06zM683.13,381.75h1.06v1.06h-1.06zM684.19,381.75h1.06v1.06h-1.06zM685.26,381.75h1.06v1.06h-1.06zM686.32,381.75h1.06v1.06h-1.06zM687.38,381.75h1.06v1.06h-1.06zM695.90,381.75h1.06v1.06h-1.06zM696.96,381.75h1.06v1.06h-1.06zM698.02,381.75h1.06v1.06h-1.06zM699.09,381.75h1.06v1.06h-1.06zM700.15,381.75h1.06v1.06h-1.06zM706.54,381.75h1.06v1.06h-1.06zM681.00,382.82h1.06v1.06h-1.06zM687.38,382.82h1.06v1.06h-1.06zM689.51,382.82h1.06v1.06h-1.06zM690.58,382.82h1.06v1.06h-1.06zM691.64,382.82h1.06v1.06h-1.06zM693.77,382.82h1.06v1.06h-1.06zM696.96,382.82h1.06v1.06h-1.06zM698.02,382.82h1.06v1.06h-1.06zM699.09,382.82h1.06v1.06h-1.06zM704.41,382.82h1.06v1.06h-1.06zM705.47,382.82h1.06v1.06h-1.06zM706.54,382.82h1.06v1.06h-1.06zM681.00,383.88h1.06v1.06h-1.06zM683.13,383.88h1.06v1.06h-1.06zM684.19,383.88h1.06v1.06h-1.06zM685.26,383.88h1.06v1.06h-1.06zM687.38,383.88h1.06v1.06h-1.06zM690.58,383.88h1.06v1.06h-1.06zM692.70,383.88h1.06v1.06h-1.06zM693.77,383.88h1.06v1.06h-1.06zM694.83,383.88h1.06v1.06h-1.06zM696.96,383.88h1.06v1.06h-1.06zM700.15,383.88h1.06v1.06h-1.06zM701.22,383.88h1.06v1.06h-1.06zM704.41,383.88h1.06v1.06h-1.06zM705.47,383.88h1.06v1.06h-1.06zM706.54,383.88h1.06v1.06h-1.06zM681.00,384.94h1.06v1.06h-1.06zM683.13,384.94h1.06v1.06h-1.06zM684.19,384.94h1.06v1.06h-1.06zM685.26,384.94h1.06v1.06h-1.06zM687.38,384.94h1.06v1.06h-1.06zM692.70,384.94h1.06v1.06h-1.06zM694.83,384.94h1.06v1.06h-1.06zM695.90,384.94h1.06v1.06h-1.06zM696.96,384.94h1.06v1.06h-1.06zM698.02,384.94h1.06v1.06h-1.06zM699.09,384.94h1.06v1.06h-1.06zM700.15,384.94h1.06v1.06h-1.06zM701.22,384.94h1.06v1.06h-1.06zM702.28,384.94h1.06v1.06h-1.06zM703.34,384.94h1.06v1.06h-1.06zM705.47,384.94h1.06v1.06h-1.06zM681.00,386.01h1.06v1.06h-1.06zM683.13,386.01h1.06v1.06h-1.06zM684.19,386.01h1.06v1.06h-1.06zM685.26,386.01h1.06v1.06h-1.06zM687.38,386.01h1.06v1.06h-1.06zM691.64,386.01h1.06v1.06h-1.06zM692.70,386.01h1.06v1.06h-1.06zM693.77,386.01h1.06v1.06h-1.06zM694.83,386.01h1.06v1.06h-1.06zM695.90,386.01h1.06v1.06h-1.06zM698.02,386.01h1.06v1.06h-1.06zM700.15,386.01h1.06v1.06h-1.06zM701.22,386.01h1.06v1.06h-1.06zM703.34,386.01h1.06v1.06h-1.06zM704.41,386.01h1.06v1.06h-1.06zM681.00,387.07h1.06v1.06h-1.06zM687.38,387.07h1.06v1.06h-1.06zM689.51,387.07h1.06v1.06h-1.06zM692.70,387.07h1.06v1.06h-1.06zM693.77,387.07h1.06v1.06h-1.06zM695.90,387.07h1.06v1.06h-1.06zM696.96,387.07h1.06v1.06h-1.06zM698.02,387.07h1.06v1.06h-1.06zM699.09,387.07h1.06v1.06h-1.06zM702.28,387.07h1.06v1.06h-1.06zM704.41,387.07h1.06v1.06h-1.06zM706.54,387.07h1.06v1.06h-1.06zM681.00,388.14h1.06v1.06h-1.06zM682.06,388.14h1.06v1.06h-1.06zM683.13,388.14h1.06v1.06h-1.06zM684.19,388.14h1.06v1.06h-1.06zM685.26,388.14h1.06v1.06h-1.06zM686.32,388.14h1.06v1.06h-1.06zM687.38,388.14h1.06v1.06h-1.06zM689.51,388.14h1.06v1.06h-1.06zM690.58,388.14h1.06v1.06h-1.06zM691.64,388.14h1.06v1.06h-1.06zM692.70,388.14h1.06v1.06h-1.06zM693.77,388.14h1.06v1.06h-1.06zM694.83,388.14h1.06v1.06h-1.06zM695.90,388.14h1.06v1.06h-1.06zM696.96,388.14h1.06v1.06h-1.06zM701.22,388.14h1.06v1.06h-1.06zM702.28,388.14h1.06v1.06h-1.06zM704.41,388.14h1.06v1.06h-1.06zM705.47,388.14h1.06v1.06h-1.06zM706.54,388.14h1.06v1.06h-1.06z"/>
<rect x="726.5" y="369.5" width="73.5" height="16.3" fill="#fff"/>
<text x="733.5" y="380.6" font-family="Liberation Sans,sans-serif" font-weight="700" font-size="11" fill="#111" stroke="#111" stroke-width=".3" textLength="45.5" lengthAdjust="spacingAndGlyphs">www.rsf.org</text>
<text x="764.5" y="388.3" font-family="Liberation Sans,sans-serif" font-weight="700" font-size="2.6" fill="#0a1a2a" stroke="#0a1a2a" stroke-width=".2" textLength="15.5" lengthAdjust="spacingAndGlyphs">#RSF_inter</text>
<path d="M307,168.5L311,173M305.5,178.2L310,178.5M307,184L312,183M314,192.5L317,190.5M319.4,199L322,197.5M178,152.3L175,156M186,158L186,161.5M196,160L193,162M167.5,160.5L172,162M160.5,165.5L161,168M138,176.5L150,177M148.8,183.5L155,182M155,190.5L161,190M170,185.6L170,190M211.8,183.5L208,186M220,190.3L216,196M231,195L225,200M189.5,274L194.5,275.5M600.7,174L592,175M430,282.5L421,281M647,119.5L640.5,120.5M589.8,201L598,206.5M601,197.8L604,202.5M587.5,209L577,207M527,199.3L526.5,197.5" stroke="#222" stroke-width=".35" fill="none"/><text class="t" x="128.9" y="73.8" font-size="9.03" letter-spacing="0.14em" textLength="25.80" lengthAdjust="spacingAndGlyphs">CANADA</text>
<text class="t" x="112.2" y="117.5" font-size="8.61" letter-spacing="0.14em" textLength="48.81" lengthAdjust="spacingAndGlyphs">UNITED STATES</text>
<text class="t" x="114.6" y="151.9" font-size="5.56" letter-spacing="0.14em" textLength="15.25" lengthAdjust="spacingAndGlyphs">MEXICO</text>
<text class="t ts" x="176.8" y="152" font-size="2.92" textLength="6.2" lengthAdjust="spacingAndGlyphs">CUBA</text>
<text class="t ts" x="183.8" y="158.3" font-size="3.19" textLength="4.6" lengthAdjust="spacingAndGlyphs">HAITI</text>
<text class="t ts" x="195.4" y="158.9" font-size="3.06" textLength="15.6" lengthAdjust="spacingAndGlyphs">DOMINICAN</text>
<text class="t ts" x="196.2" y="163.2" font-size="3.06" textLength="14.0" lengthAdjust="spacingAndGlyphs">REPUBLIC</text>
<text class="t ts" x="160.5" y="161" font-size="2.50" textLength="7.0" lengthAdjust="spacingAndGlyphs">JAMAICA</text>
<text class="t ts" x="154.3" y="166.6" font-size="2.92" textLength="6.2" lengthAdjust="spacingAndGlyphs">BELIZE</text>
<text class="t ts" x="161.2" y="171.3" font-size="3.06" textLength="12.5" lengthAdjust="spacingAndGlyphs">HONDURAS</text>
<text class="t ts" x="122.4" y="177.5" font-size="3.06" textLength="15.6" lengthAdjust="spacingAndGlyphs">GUATEMALA</text>
<text class="t ts" x="162.8" y="176.7" font-size="2.92" textLength="17.1" lengthAdjust="spacingAndGlyphs">NICARAGUA</text>
<text class="t ts" x="130.2" y="184.5" font-size="3.06" textLength="18.6" lengthAdjust="spacingAndGlyphs">EL SALVADOR</text>
<text class="t ts" x="138" y="191.5" font-size="3.06" textLength="17.0" lengthAdjust="spacingAndGlyphs">COSTA RICA</text>
<text class="t ts" x="165.1" y="185.6" font-size="2.78" textLength="7.8" lengthAdjust="spacingAndGlyphs">PANAMA</text>
<text class="t ts" x="205.8" y="175.3" font-size="2.50" textLength="6.2" lengthAdjust="spacingAndGlyphs">OECS</text>
<text class="t ts" x="211.8" y="184.8" font-size="3.47" textLength="33.2" lengthAdjust="spacingAndGlyphs">TRINIDAD AND TOBAGO</text>
<text class="t ts" x="217.8" y="190.3" font-size="3.75" textLength="10.7" lengthAdjust="spacingAndGlyphs">GUYANA</text>
<text class="t ts" x="227.1" y="195.2" font-size="3.06" textLength="14.7" lengthAdjust="spacingAndGlyphs">SURINAME</text>
<text class="w" x="187.9" y="193.6" font-size="5.14" letter-spacing="0.14em" textLength="20.29" lengthAdjust="spacingAndGlyphs">VENEZUELA</text>
<text class="t ts" x="173.9" y="204.3" font-size="4.58" letter-spacing="0.14em" textLength="19.72" lengthAdjust="spacingAndGlyphs">COLOMBIA</text>
<text class="t" x="156" y="217.3" font-size="5.14" letter-spacing="0.14em" textLength="16.99" lengthAdjust="spacingAndGlyphs">ECUADOR</text>
<text class="t" x="216.9" y="242.5" font-size="7.78" letter-spacing="0.14em" textLength="17.34" lengthAdjust="spacingAndGlyphs">BRAZIL</text>
<text class="t" x="177.5" y="245.3" font-size="5.97" letter-spacing="0.14em" textLength="10.96" lengthAdjust="spacingAndGlyphs">PERU</text>
<text class="t" x="196.3" y="257.3" font-size="5.28" letter-spacing="0.14em" textLength="14.09" lengthAdjust="spacingAndGlyphs">BOLIVIA</text>
<text class="t" x="207" y="271" font-size="5.83" letter-spacing="0.14em" textLength="19.71" lengthAdjust="spacingAndGlyphs">PARAGUAY</text>
<text class="t" x="179.5" y="276" font-size="5.14" letter-spacing="0.14em" textLength="10.39" lengthAdjust="spacingAndGlyphs">CHILE</text>
<text class="t ts" x="199.3" y="288.5" font-size="4.86" letter-spacing="0.14em" textLength="21.11" lengthAdjust="spacingAndGlyphs">ARGENTINA</text>
<text class="t ts" x="220.5" y="296.5" font-size="4.86" letter-spacing="0.14em" textLength="17.41" lengthAdjust="spacingAndGlyphs">URUGUAY</text>
<text class="t ts" x="312.5" y="52.8" font-size="4.44" textLength="13.3" lengthAdjust="spacingAndGlyphs">ICELAND</text>
<text class="t ts" x="360.8" y="60.6" font-size="3.33" textLength="10.9" lengthAdjust="spacingAndGlyphs">NORWAY</text>
<text class="t ts" x="372.5" y="64.8" font-size="3.19" textLength="10.5" lengthAdjust="spacingAndGlyphs">SWEDEN</text>
<text class="t ts" x="392.3" y="57.5" font-size="3.33" textLength="11.2" lengthAdjust="spacingAndGlyphs">FINLAND</text>
<text class="t tx" x="393" y="66" font-size="1.67" textLength="5.5" lengthAdjust="spacingAndGlyphs">ESTONIA</text>
<text class="t tx" x="393.8" y="70.7" font-size="1.67" textLength="5.5" lengthAdjust="spacingAndGlyphs">LATVIA</text>
<text class="t tx" x="391.5" y="73.8" font-size="1.67" textLength="7.0" lengthAdjust="spacingAndGlyphs">LITHUANIA</text>
<text class="t tx" x="362.8" y="72.7" font-size="1.94" textLength="7.5" lengthAdjust="spacingAndGlyphs">DENMARK</text>
<text class="t ts" x="340.8" y="76.7" font-size="3.19" textLength="9.2" lengthAdjust="spacingAndGlyphs">UNITED</text>
<text class="t ts" x="340" y="81" font-size="3.33" textLength="12.0" lengthAdjust="spacingAndGlyphs">KINGDOM</text>
<text class="t ts" x="328.4" y="79.5" font-size="3.06" textLength="8.9" lengthAdjust="spacingAndGlyphs">IRELAND</text>
<text class="t tx" x="354" y="81.7" font-size="2.08" textLength="7.4" lengthAdjust="spacingAndGlyphs">NETHERLANDS</text>
<text class="t tx" x="354" y="85.2" font-size="1.67" textLength="6.2" lengthAdjust="spacingAndGlyphs">BELGIUM</text>
<text class="t tx" x="357.5" y="88" font-size="1.67" textLength="6.5" lengthAdjust="spacingAndGlyphs">LUXEMBOURG</text>
<text class="t tx" x="363.3" y="83.7" font-size="2.36" textLength="11.2" lengthAdjust="spacingAndGlyphs">GERMANY</text>
<text class="t ts" x="381.5" y="83.3" font-size="2.64" textLength="9.4" lengthAdjust="spacingAndGlyphs">POLAND</text>
<text class="t tx" x="376" y="87.6" font-size="1.67" textLength="6.0" lengthAdjust="spacingAndGlyphs">CZECHIA</text>
<text class="t tx" x="384.3" y="90.1" font-size="1.67" textLength="6.6" lengthAdjust="spacingAndGlyphs">SLOVAKIA</text>
<text class="t tx" x="373.3" y="93" font-size="1.81" textLength="7.1" lengthAdjust="spacingAndGlyphs">AUSTRIA</text>
<text class="t tx" x="381.7" y="94.9" font-size="1.94" textLength="8.4" lengthAdjust="spacingAndGlyphs">HUNGARY</text>
<text class="t ts" x="348.4" y="94.2" font-size="3.06" textLength="9.8" lengthAdjust="spacingAndGlyphs">FRANCE</text>
<text class="t tx" x="361.3" y="94.4" font-size="1.81" textLength="8.0" lengthAdjust="spacingAndGlyphs">SWITZERLAND</text>
<text class="t tx" x="373.7" y="96.9" font-size="1.94" textLength="5.3" lengthAdjust="spacingAndGlyphs">SLOVENIA</text>
<text class="t tx" x="380.4" y="97.9" font-size="1.39" textLength="6.6" lengthAdjust="spacingAndGlyphs">CROATIA</text>
<text class="t tx" x="365.3" y="99.5" font-size="2.36" textLength="5.7" lengthAdjust="spacingAndGlyphs">ITALY</text>
<text class="t tx" x="393.2" y="97.8" font-size="2.50" textLength="9.8" lengthAdjust="spacingAndGlyphs">ROMANIA</text>
<text class="t tx" x="401" y="92.7" font-size="1.67" textLength="6.0" lengthAdjust="spacingAndGlyphs">MOLDOVA</text>
<text class="t tx" x="380.4" y="101.8" font-size="1.94" textLength="7.5" lengthAdjust="spacingAndGlyphs">BOSNIA</text>
<text class="t tx" x="388" y="102" font-size="2.22" textLength="5.0" lengthAdjust="spacingAndGlyphs">SERBIA</text>
<text class="t tx" x="380.4" y="105.3" font-size="1.81" textLength="6.6" lengthAdjust="spacingAndGlyphs">MONTENEGRO</text>
<text class="t tx" x="396" y="104.9" font-size="1.94" textLength="8.0" lengthAdjust="spacingAndGlyphs">BULGARIA</text>
<text class="t tx" x="391.5" y="107.2" font-size="1.67" textLength="5.5" lengthAdjust="spacingAndGlyphs">MACEDONIA</text>
<text class="t tx" x="387" y="109.7" font-size="1.81" textLength="4.5" lengthAdjust="spacingAndGlyphs">ALBANIA</text>
<text class="t tx" x="388.8" y="113.7" font-size="2.36" textLength="8.9" lengthAdjust="spacingAndGlyphs">GREECE</text>
<text class="t ts" x="336.9" y="111.3" font-size="3.47" textLength="7.5" lengthAdjust="spacingAndGlyphs">SPAIN</text>
<text class="t tx" x="321.7" y="113.7" font-size="2.36" textLength="11.3" lengthAdjust="spacingAndGlyphs">PORTUGAL</text>
<text class="t tx" x="349.3" y="103" font-size="1.67" textLength="4.9" lengthAdjust="spacingAndGlyphs">ANDORRA</text>
<text class="t tx" x="375.5" y="127.3" font-size="2.22" textLength="6.2" lengthAdjust="spacingAndGlyphs">MALTA</text>
<text class="t tx" x="404.5" y="88.6" font-size="2.22" textLength="10.0" lengthAdjust="spacingAndGlyphs">UKRAINE</text>
<text class="w" x="396.5" y="80" font-size="3.75" textLength="10.7" lengthAdjust="spacingAndGlyphs">BELARUS</text>
<text class="w" x="413.2" y="114.6" font-size="3.61" textLength="12.0" lengthAdjust="spacingAndGlyphs">TURKEY</text>
<text class="t tx" x="402" y="122.1" font-size="1.67" textLength="12.0" lengthAdjust="spacingAndGlyphs">CYPRUS</text>
<text class="t tx" x="408.3" y="124.8" font-size="1.81" textLength="7.1" lengthAdjust="spacingAndGlyphs">LEBANON</text>
<text class="t tx" x="413.6" y="127.1" font-size="1.39" textLength="6.2" lengthAdjust="spacingAndGlyphs">ISRAEL</text>
<text class="t tx" x="412.7" y="129.4" font-size="1.53" textLength="7.1" lengthAdjust="spacingAndGlyphs">PALESTINE</text>
<text class="w" x="425.2" y="123.5" font-size="4.31" textLength="7.5" lengthAdjust="spacingAndGlyphs">SYRIA</text>
<text class="w" x="434.5" y="130.2" font-size="3.75" textLength="7.1" lengthAdjust="spacingAndGlyphs">IRAQ</text>
<text class="w" x="424.3" y="132.8" font-size="3.06" textLength="6.2" lengthAdjust="spacingAndGlyphs">JORDAN</text>
<text class="t tx" x="433" y="107.1" font-size="1.81" textLength="8.0" lengthAdjust="spacingAndGlyphs">GEORGIA</text>
<text class="t tx" x="437" y="111.1" font-size="1.81" textLength="6.4" lengthAdjust="spacingAndGlyphs">ARMENIA</text>
<text class="t tx" x="448" y="107.2" font-size="1.67" textLength="9.0" lengthAdjust="spacingAndGlyphs">AZERBAIJAN</text>
<text class="t tx" x="448" y="138.6" font-size="1.81" textLength="5.6" lengthAdjust="spacingAndGlyphs">KUWAIT</text>
<text class="t tx" x="457.3" y="145.2" font-size="2.36" textLength="5.7" lengthAdjust="spacingAndGlyphs">QATAR</text>
<text class="t tx" x="459" y="148.4" font-size="1.94" textLength="6.0" lengthAdjust="spacingAndGlyphs">UAE</text>
<text class="t tx" x="466.5" y="163.1" font-size="2.08" textLength="7.0" lengthAdjust="spacingAndGlyphs">OMAN</text>
<text class="w" x="496.1" y="59.6" font-size="9.31" letter-spacing="0.14em" textLength="24.44" lengthAdjust="spacingAndGlyphs">RUSSIA</text>
<text class="w" x="466" y="93.9" font-size="4.44" textLength="24.0" lengthAdjust="spacingAndGlyphs">KAZAKHSTAN</text>
<text class="w" x="465" y="105.3" font-size="3.61" textLength="12.6" lengthAdjust="spacingAndGlyphs">UZBEKISTAN</text>
<text class="w" x="460" y="114.7" font-size="3.75" textLength="19.5" lengthAdjust="spacingAndGlyphs">TURKMENISTAN</text>
<text class="w" x="491.6" y="107.5" font-size="3.47" textLength="17.1" lengthAdjust="spacingAndGlyphs">KYRGYZSTAN</text>
<text class="w" x="490" y="116" font-size="3.33" textLength="12.5" lengthAdjust="spacingAndGlyphs">TAJIKISTAN</text>
<text class="w" x="476" y="126.5" font-size="3.89" textLength="20.3" lengthAdjust="spacingAndGlyphs">AFGHANISTAN</text>
<text class="w" x="459.6" y="130.7" font-size="3.75" textLength="7.0" lengthAdjust="spacingAndGlyphs">IRAN</text>
<text class="w" x="483.7" y="142" font-size="3.33" textLength="13.9" lengthAdjust="spacingAndGlyphs">PAKISTAN</text>
<text class="w" x="438.6" y="152" font-size="3.19" textLength="10.1" lengthAdjust="spacingAndGlyphs">SAUDI</text>
<text class="w" x="437.9" y="155.9" font-size="3.19" textLength="11.6" lengthAdjust="spacingAndGlyphs">ARABIA</text>
<text class="w" x="445.8" y="173.9" font-size="4.58" letter-spacing="0.14em" textLength="10.96" lengthAdjust="spacingAndGlyphs">YEMEN</text>
<text class="w" x="513" y="157.6" font-size="5.42" letter-spacing="0.14em" textLength="12.09" lengthAdjust="spacingAndGlyphs">INDIA</text>
<text class="t ts" x="524" y="141.6" font-size="3.33" textLength="7.0" lengthAdjust="spacingAndGlyphs">NEPAL</text>
<text class="w" x="538" y="138.8" font-size="3.19" textLength="10.0" lengthAdjust="spacingAndGlyphs">BHUTAN</text>
<text class="t ts" x="535.8" y="163" font-size="3.06" textLength="15.4" lengthAdjust="spacingAndGlyphs">BANGLADESH</text>
<text class="w" x="551.2" y="160" font-size="3.75" textLength="12.4" lengthAdjust="spacingAndGlyphs">MYANMAR</text>
<text class="t ts" x="522.5" y="201.6" font-size="3.19" textLength="13.8" lengthAdjust="spacingAndGlyphs">SRI LANKA</text>
<text class="t ts" x="503.8" y="195.8" font-size="3.19" textLength="12.5" lengthAdjust="spacingAndGlyphs">MALDIVES</text>
<text class="t ts" x="465" y="204.8" font-size="3.19" textLength="16.3" lengthAdjust="spacingAndGlyphs">SEYCHELLES</text>
<text class="t ts" x="541.7" y="97" font-size="4.17" textLength="20.4" lengthAdjust="spacingAndGlyphs">MONGOLIA</text>
<text class="w" x="555.4" y="128.4" font-size="9.44" letter-spacing="0.14em" textLength="20.65" lengthAdjust="spacingAndGlyphs">CHINA</text>
<text class="t ts" x="616.2" y="110.8" font-size="2.92" textLength="8.0" lengthAdjust="spacingAndGlyphs">NORTH</text>
<text class="t ts" x="616.2" y="114.4" font-size="3.06" textLength="8.0" lengthAdjust="spacingAndGlyphs">KOREA</text>
<text class="t ts" x="610" y="129.4" font-size="2.92" textLength="8.9" lengthAdjust="spacingAndGlyphs">SOUTH</text>
<text class="t ts" x="610" y="133" font-size="2.92" textLength="8.9" lengthAdjust="spacingAndGlyphs">KOREA</text>
<text class="t ts" x="646.3" y="120" font-size="3.06" textLength="8.7" lengthAdjust="spacingAndGlyphs">JAPAN</text>
<text class="t ts" x="615.5" y="149.8" font-size="3.19" textLength="8.3" lengthAdjust="spacingAndGlyphs">TAIWAN</text>
<text class="t ts" x="598" y="158" font-size="3.06" textLength="11.5" lengthAdjust="spacingAndGlyphs">HONG KONG</text>
<text class="t ts" x="623.8" y="178" font-size="4.17" textLength="22.5" lengthAdjust="spacingAndGlyphs">PHILIPPINES</text>
<text class="t ts" x="565.7" y="173.4" font-size="3.33" textLength="10.9" lengthAdjust="spacingAndGlyphs">THAILAND</text>
<text class="w" x="569.6" y="161.7" font-size="3.19" textLength="6.2" lengthAdjust="spacingAndGlyphs">LAOS</text>
<text class="t ts" x="589.8" y="175" font-size="3.33" textLength="10.9" lengthAdjust="spacingAndGlyphs">VIETNAM</text>
<text class="w" x="575" y="181.1" font-size="3.19" textLength="10.0" lengthAdjust="spacingAndGlyphs">CAMBODIA</text>
<text class="t ts" x="579.7" y="202.1" font-size="3.19" textLength="10.1" lengthAdjust="spacingAndGlyphs">MALAYSIA</text>
<text class="t ts" x="596.8" y="197.8" font-size="2.64" textLength="8.2" lengthAdjust="spacingAndGlyphs">BRUNEI</text>
<text class="t ts" x="578" y="210" font-size="2.78" textLength="9.5" lengthAdjust="spacingAndGlyphs">SINGAPORE</text>
<text class="t ts" x="587.2" y="227.2" font-size="4.44" textLength="21.2" lengthAdjust="spacingAndGlyphs">INDONESIA</text>
<text class="t ts" x="627.6" y="232.5" font-size="2.92" textLength="15.9" lengthAdjust="spacingAndGlyphs">TIMOR-LESTE</text>
<text class="t ts" x="668" y="223.6" font-size="2.92" textLength="10.6" lengthAdjust="spacingAndGlyphs">PAPUA</text>
<text class="t ts" x="664.7" y="229.1" font-size="3.61" textLength="18.1" lengthAdjust="spacingAndGlyphs">NEW GUINEA</text>
<text class="t ts" x="702.2" y="215.2" font-size="3.06" textLength="7.8" lengthAdjust="spacingAndGlyphs">SAMOA</text>
<text class="t ts" x="701" y="222.2" font-size="3.06" textLength="7.6" lengthAdjust="spacingAndGlyphs">TONGA</text>
<text class="t ts" x="703.8" y="237" font-size="3.19" textLength="5.0" lengthAdjust="spacingAndGlyphs">FIJI</text>
<text class="t" x="621.5" y="280.6" font-size="8.61" letter-spacing="0.14em" textLength="31.53" lengthAdjust="spacingAndGlyphs">AUSTRALIA</text>
<text class="t" x="686" y="318.2" font-size="5.14" letter-spacing="0.14em" textLength="23.87" lengthAdjust="spacingAndGlyphs">NEW ZEALAND</text>
<text class="t ts" x="327" y="131.8" font-size="3.75" textLength="14.3" lengthAdjust="spacingAndGlyphs">MOROCCO</text>
<text class="t" x="341.7" y="143.3" font-size="5.00" letter-spacing="0.14em" textLength="15.50" lengthAdjust="spacingAndGlyphs">ALGERIA</text>
<text class="t tx" x="362.5" y="128" font-size="2.22" textLength="8.5" lengthAdjust="spacingAndGlyphs">TUNISIA</text>
<text class="t ts" x="377.6" y="145.3" font-size="4.31" textLength="10.9" lengthAdjust="spacingAndGlyphs">LIBYA</text>
<text class="w" x="405.9" y="147.3" font-size="5.56" letter-spacing="0.14em" textLength="11.70" lengthAdjust="spacingAndGlyphs">EGYPT</text>
<text class="t ts" x="307.1" y="148.4" font-size="3.06" textLength="13.8" lengthAdjust="spacingAndGlyphs">WESTERN</text>
<text class="t ts" x="308.9" y="152.6" font-size="3.06" textLength="11.1" lengthAdjust="spacingAndGlyphs">SAHARA</text>
<text class="t ts" x="311" y="165.2" font-size="3.75" textLength="21.9" lengthAdjust="spacingAndGlyphs">MAURITANIA</text>
<text class="t" x="337.3" y="168.6" font-size="5.42" letter-spacing="0.14em" textLength="9.75" lengthAdjust="spacingAndGlyphs">MALI</text>
<text class="t" x="361.3" y="171" font-size="5.56" letter-spacing="0.14em" textLength="12.14" lengthAdjust="spacingAndGlyphs">NIGER</text>
<text class="t" x="383" y="174" font-size="5.56" letter-spacing="0.14em" textLength="10.63" lengthAdjust="spacingAndGlyphs">CHAD</text>
<text class="w" x="405.9" y="167.2" font-size="5.56" letter-spacing="0.14em" textLength="13.03" lengthAdjust="spacingAndGlyphs">SUDAN</text>
<text class="w" x="415.9" y="175.9" font-size="3.75" textLength="8.6" lengthAdjust="spacingAndGlyphs">ERITREA</text>
<text class="w" x="425.9" y="194.6" font-size="5.56" letter-spacing="0.14em" textLength="17.62" lengthAdjust="spacingAndGlyphs">ETHIOPIA</text>
<text class="t ts" x="443.8" y="183.3" font-size="2.78" textLength="10.6" lengthAdjust="spacingAndGlyphs">DJIBOUTI</text>
<text class="t ts" x="444.5" y="189.7" font-size="3.75" textLength="13.9" lengthAdjust="spacingAndGlyphs">SOMALIA</text>
<text class="t ts" x="405.9" y="192" font-size="3.19" textLength="12.0" lengthAdjust="spacingAndGlyphs">SOUTH</text>
<text class="t ts" x="405.9" y="197" font-size="3.33" textLength="12.0" lengthAdjust="spacingAndGlyphs">SUDAN</text>
<text class="t ts" x="380.6" y="196" font-size="2.78" textLength="22.0" lengthAdjust="spacingAndGlyphs">CENTRAL AFRICAN</text>
<text class="t ts" x="386" y="199.3" font-size="2.78" textLength="12.0" lengthAdjust="spacingAndGlyphs">REPUBLIC</text>
<text class="t ts" x="295" y="168.5" font-size="2.78" textLength="12.0" lengthAdjust="spacingAndGlyphs">SENEGAL</text>
<text class="t ts" x="284" y="173.2" font-size="3.19" textLength="14.5" lengthAdjust="spacingAndGlyphs">CAPE VERDE</text>
<text class="t ts" x="294" y="179.2" font-size="2.78" textLength="11.5" lengthAdjust="spacingAndGlyphs">GAMBIA</text>
<text class="t ts" x="284.5" y="185" font-size="2.78" textLength="22.5" lengthAdjust="spacingAndGlyphs">GUINEA-BISSAU</text>
<text class="t ts" x="315.4" y="185.5" font-size="2.78" textLength="8.0" lengthAdjust="spacingAndGlyphs">GUINEA</text>
<text class="t ts" x="294" y="193.6" font-size="3.06" textLength="20.0" lengthAdjust="spacingAndGlyphs">SIERRA LEONE</text>
<text class="t ts" x="309" y="199.8" font-size="2.92" textLength="10.4" lengthAdjust="spacingAndGlyphs">LIBERIA</text>
<text class="t ts" x="330" y="192.3" font-size="2.78" textLength="6.0" lengthAdjust="spacingAndGlyphs">CÔTE</text>
<text class="t ts" x="328" y="195.9" font-size="2.92" textLength="10.0" lengthAdjust="spacingAndGlyphs">D'IVOIRE</text>
<text class="t ts" x="336.5" y="180.5" font-size="3.06" textLength="10.1" lengthAdjust="spacingAndGlyphs">BURKINA</text>
<text class="t ts" x="339" y="184.2" font-size="3.06" textLength="5.5" lengthAdjust="spacingAndGlyphs">FASO</text>
<text class="t ts" x="339.6" y="193.9" font-size="2.92" textLength="6.2" lengthAdjust="spacingAndGlyphs">GHANA</text>
<text class="t ts" x="347.4" y="189.4" font-size="3.06" textLength="6.9" lengthAdjust="spacingAndGlyphs">BENIN</text>
<text class="t ts" x="345" y="201.5" font-size="2.64" textLength="4.7" lengthAdjust="spacingAndGlyphs">TOGO</text>
<text class="t ts" x="357.5" y="191" font-size="4.17" textLength="14.7" lengthAdjust="spacingAndGlyphs">NIGERIA</text>
<text class="t ts" x="363.7" y="202.2" font-size="3.61" textLength="16.3" lengthAdjust="spacingAndGlyphs">CAMEROON</text>
<text class="t ts" x="349.7" y="211.8" font-size="2.92" textLength="14.0" lengthAdjust="spacingAndGlyphs">EQUATORIAL</text>
<text class="t ts" x="351.2" y="215.8" font-size="3.06" textLength="10.8" lengthAdjust="spacingAndGlyphs">GUINEA</text>
<text class="t ts" x="366.8" y="216" font-size="3.33" textLength="10.1" lengthAdjust="spacingAndGlyphs">GABON</text>
<text class="t ts" x="376" y="212" font-size="3.19" textLength="10.2" lengthAdjust="spacingAndGlyphs">CONGO</text>
<text class="w" x="415.2" y="209.2" font-size="2.78" textLength="8.0" lengthAdjust="spacingAndGlyphs">UGANDA</text>
<text class="t ts" x="424.5" y="213.2" font-size="3.61" textLength="11.3" lengthAdjust="spacingAndGlyphs">KENYA</text>
<text class="t ts" x="405.2" y="212.5" font-size="2.64" textLength="8.7" lengthAdjust="spacingAndGlyphs">RWANDA</text>
<text class="t ts" x="406" y="228.8" font-size="2.50" textLength="6.5" lengthAdjust="spacingAndGlyphs">BURUNDI</text>
<text class="t ts" x="386" y="216.5" font-size="2.78" textLength="18.6" lengthAdjust="spacingAndGlyphs">DEMOCRATIC</text>
<text class="t ts" x="388.6" y="219.9" font-size="2.78" textLength="13.4" lengthAdjust="spacingAndGlyphs">REPUBLIC</text>
<text class="t ts" x="386" y="223.2" font-size="2.78" textLength="17.9" lengthAdjust="spacingAndGlyphs">OF THE CONGO</text>
<text class="t ts" x="414.2" y="228.6" font-size="3.61" textLength="17.3" lengthAdjust="spacingAndGlyphs">TANZANIA</text>
<text class="t ts" x="379" y="243.9" font-size="3.61" textLength="14.6" lengthAdjust="spacingAndGlyphs">ANGOLA</text>
<text class="t ts" x="397" y="250.6" font-size="3.75" textLength="13.9" lengthAdjust="spacingAndGlyphs">ZAMBIA</text>
<text class="t ts" x="417.5" y="244.8" font-size="3.06" textLength="10.0" lengthAdjust="spacingAndGlyphs">MALAWI</text>
<text class="t ts" x="440.1" y="239.5" font-size="2.50" textLength="12.0" lengthAdjust="spacingAndGlyphs">COMOROS</text>
<text class="t ts" x="416.2" y="257.6" font-size="3.33" textLength="19.9" lengthAdjust="spacingAndGlyphs">MOZAMBIQUE</text>
<text class="t ts" x="438.1" y="257.6" font-size="3.33" textLength="25.3" lengthAdjust="spacingAndGlyphs">MADAGASCAR</text>
<text class="t ts" x="404.9" y="262.1" font-size="3.06" textLength="13.3" lengthAdjust="spacingAndGlyphs">ZIMBABWE</text>
<text class="t ts" x="375.6" y="264.5" font-size="3.61" textLength="12.0" lengthAdjust="spacingAndGlyphs">NAMIBIA</text>
<text class="t ts" x="391" y="269.8" font-size="3.61" textLength="16.6" lengthAdjust="spacingAndGlyphs">BOTSWANA</text>
<text class="t ts" x="396.8" y="282.6" font-size="2.92" textLength="5.7" lengthAdjust="spacingAndGlyphs">LESOTHO</text>
<text class="t ts" x="418.8" y="283.4" font-size="2.64" textLength="11.2" lengthAdjust="spacingAndGlyphs">ESWATINI</text>
<text class="t ts" x="462.5" y="263.8" font-size="2.78" textLength="12.5" lengthAdjust="spacingAndGlyphs">MAURITIUS</text>
<text class="t ts" x="390" y="289.8" font-size="4.17" textLength="10.0" lengthAdjust="spacingAndGlyphs">SOUTH</text>
<text class="t ts" x="390" y="295" font-size="4.44" textLength="9.5" lengthAdjust="spacingAndGlyphs">AFRICA</text>
<rect x="0" y="401.5" width="800" height="49.5" fill="#060606"/>
<text x="183.4" y="436.3" font-family="Liberation Sans,sans-serif" font-weight="700" font-size="29.4" fill="#fff" stroke="#fff" stroke-width=".9" stroke-linejoin="miter" textLength="432" lengthAdjust="spacingAndGlyphs">FREEDOM OF THE PRESS WORLDWIDE 2025</text>
</svg>
</body></html>
